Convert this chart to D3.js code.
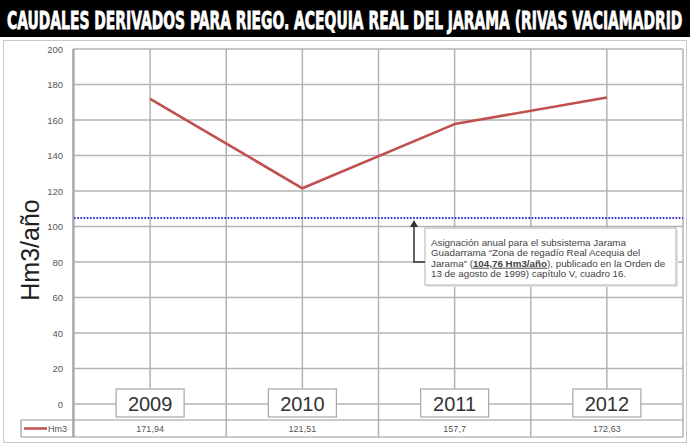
<!DOCTYPE html>
<html>
<head>
<meta charset="utf-8">
<script src="https://cdn.jsdelivr.net/npm/d3@7"></script>
<style>
  html, body { margin: 0; padding: 0; background: #fff; }
  svg { display: block; font-family: "Liberation Sans", Arial, sans-serif; }
</style>
</head>
<body>
<div id="chart"></div>
<script>
// Caudales derivados para riego, Acequia Real del Jarama (Hm3/año)
var years = ["2009", "2010", "2011", "2012"];
var hm3 = [171.94, 121.51, 157.7, 172.63];
var hm3Labels = ["171,94", "121,51", "157,7", "172,63"];
var yTicks = [0, 20, 40, 60, 80, 100, 120, 140, 160, 180, 200];
var allocation = [104.76];
var noteLines = [
    ["Asignación anual para el subsistema Jarama"],
    ["Guadarrama “Zona de regadío Real Acequia del"],
    ["Jarama” (", "104,76 Hm3/año", "), publicado en la Orden de"],
    ["13 de agosto de 1999) capítulo V, cuadro 16."]
];

(function () {
    var W = 690, H = 445;
    var svg = d3.select("#chart").append("svg").attr("width", W).attr("height", H);
    var GRID = "#b3b3b3";

    // title bar: shrink font to fit the width, then stretch it back vertically
    svg.append("rect").attr("x", 0).attr("y", 0).attr("width", W).attr("height", 37).attr("fill", "#000");
    var title = svg.append("text").attr("x", 0).attr("y", 0)
        .style("font-family", "'Liberation Sans Narrow', 'DejaVu Sans Condensed', sans-serif")
        .style("font-weight", "bold").style("font-size", "24px").style("fill", "#fff")
        .style("stroke", "#fff").style("stroke-width", "0.5px")
        .text("CAUDALES DERIVADOS PARA RIEGO. ACEQUIA REAL DEL JARAMA (RIVAS VACIAMADRID");
    var natural = title.node().getComputedTextLength();
    var fs = Math.min(24, 24 * 676 / natural);
    title.style("font-size", fs + "px")
        .attr("transform", "translate(7,29) scale(1," + (24 / fs) + ")");

    // outer frame
    svg.append("rect").attr("x", 3.5).attr("y", 40.5).attr("width", 683).attr("height", 402)
        .attr("fill", "none").attr("stroke", "#c8c8c8");

    var m = { left: 74, right: 683, top: 49, bottom: 404 };
    var tTop = 420, tBot = 437;
    var x = d3.scaleBand().domain(years).range([m.left, m.right]);
    var y = d3.scaleLinear().domain([0, 200]).range([m.bottom, m.top]);
    var cx = function (d) { return x(d) + x.bandwidth() / 2; };

    // horizontal grid
    svg.append("g").selectAll("line").data(yTicks).enter().append("line")
        .attr("x1", m.left - 1).attr("x2", m.right)
        .attr("y1", function (d) { return y(d); }).attr("y2", function (d) { return y(d); })
        .attr("stroke", GRID).attr("stroke-width", 1.5);

    // vertical grid: band boundaries (down through the table) and centres
    var bounds = years.map(function (d) { return x(d); }).concat([m.right]);
    svg.append("g").selectAll("line").data(bounds).enter().append("line")
        .attr("x1", function (d) { return d; }).attr("x2", function (d) { return d; })
        .attr("y1", m.top).attr("y2", tBot)
        .attr("stroke", GRID).attr("stroke-width", 1.5);
    svg.append("g").selectAll("line").data(years).enter().append("line")
        .attr("x1", cx).attr("x2", cx).attr("y1", m.top).attr("y2", 390)
        .attr("stroke", GRID).attr("stroke-width", 1.5);

    // y axis line
    svg.append("line").attr("x1", 73).attr("x2", 73).attr("y1", m.top).attr("y2", tBot)
        .attr("stroke", "#a0a0a0").attr("stroke-width", 1.5);

    // y tick labels
    svg.append("g").selectAll("text").data(yTicks).enter().append("text")
        .attr("x", 63).attr("y", function (d) { return y(d) + 3.5; })
        .attr("text-anchor", "end").style("font-size", "9.5px").style("fill", "#595959")
        .text(function (d) { return d; });

    // y axis title
    svg.append("text").attr("transform", "translate(39,250) rotate(-90)")
        .attr("text-anchor", "middle").style("font-size", "25px").style("fill", "#222")
        .text("Hm3/año");

    // table
    [tTop, tBot].forEach(function (yy) {
        svg.append("line").attr("x1", 21).attr("x2", m.right).attr("y1", yy).attr("y2", yy)
            .attr("stroke", "#999").attr("stroke-width", 1.2);
    });
    svg.append("line").attr("x1", 21).attr("x2", 21).attr("y1", tTop).attr("y2", tBot)
        .attr("stroke", "#999").attr("stroke-width", 1.2);
    svg.append("line").attr("x1", 24).attr("x2", 47).attr("y1", 428.5).attr("y2", 428.5)
        .attr("stroke", "#c0504d").attr("stroke-width", 2.5);
    svg.append("text").attr("x", 48).attr("y", 432).style("font-size", "9px").style("fill", "#555")
        .text("Hm3");
    svg.append("g").selectAll("text").data(years).enter().append("text")
        .attr("x", cx).attr("y", 432).attr("text-anchor", "middle")
        .style("font-size", "9px").style("fill", "#555")
        .text(function (d, i) { return hm3Labels[i]; });

    // category label boxes
    var cat = svg.append("g").selectAll("g").data(years).enter().append("g");
    cat.append("rect").attr("x", function (d) { return cx(d) - 34; }).attr("y", 389)
        .attr("width", 68).attr("height", 28).attr("fill", "#fff")
        .attr("stroke", "#a6a6a6").attr("stroke-width", 1.2);
    cat.append("text").attr("x", cx).attr("y", 411).attr("text-anchor", "middle")
        .style("font-size", "20px").style("fill", "#333").text(function (d) { return d; });

    // allocation line (dotted blue)
    svg.append("g").selectAll("line").data(allocation).enter().append("line")
        .attr("x1", m.left).attr("x2", m.right)
        .attr("y1", function (d) { return y(d); }).attr("y2", function (d) { return y(d); })
        .attr("stroke", "#2b2bd0").attr("stroke-width", 2).attr("stroke-dasharray", "1.6,1.6");

    // series line
    var line = d3.line().x(function (d, i) { return cx(years[i]); }).y(function (d) { return y(d); });
    svg.append("path").datum(hm3).attr("d", line).attr("fill", "none")
        .attr("stroke", "#c0504d").attr("stroke-width", 2.6).attr("stroke-linejoin", "round");

    // annotation
    var ay = y(allocation[0]);
    svg.append("rect").attr("x", 427).attr("y", 230).attr("width", 251).attr("height", 57)
        .attr("fill", "#e6e6e6");
    svg.append("rect").attr("x", 425).attr("y", 228).attr("width", 251).attr("height", 57)
        .attr("fill", "#fff").attr("stroke", "#b3b3b3").attr("stroke-width", 1);
    svg.append("path").attr("d", "M425," + 262 + " H414 V" + (ay + 4))
        .attr("fill", "none").attr("stroke", "#333").attr("stroke-width", 1.5);
    svg.append("path").attr("d", "M410," + (ay + 9) + " L414," + (ay + 2) + " L418," + (ay + 9) + " Z")
        .attr("fill", "#333");

    var note = svg.append("text").style("font-size", "9.8px").style("fill", "#444");
    noteLines.forEach(function (parts, i) {
        var t = note.append("tspan").attr("x", 431).attr("y", 245.5 + i * 10.6).text(parts[0]);
        parts.slice(1).forEach(function (p, j) {
            var s = note.append("tspan").text(p);
            if (j === 0) s.style("font-weight", "bold").style("text-decoration", "underline");
        });
    });
})();
</script>
</body>
</html>
